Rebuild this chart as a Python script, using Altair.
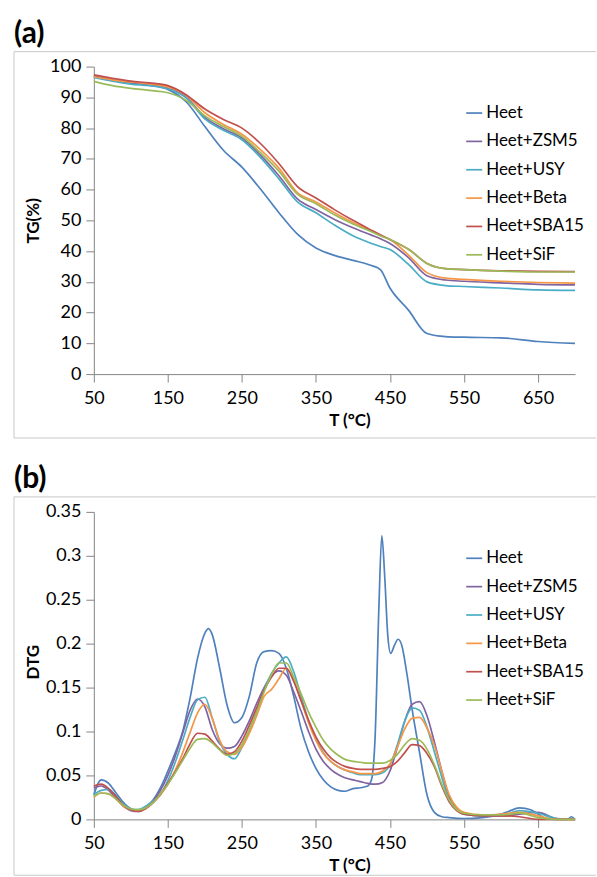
import altair as alt
import pandas as pd

SERIES = ["Heet", "Heet+ZSM5", "Heet+USY", "Heet+Beta", "Heet+SBA15", "Heet+SiF"]
COLORS = ["#4F81BD", "#8064A2", "#4BACC6", "#F79646", "#C0504D", "#9BBB59"]

X_TICKS = [50, 150, 250, 350, 450, 550, 650]

# ---------------- (a) TG ----------------
T_TG = [50, 75, 100, 125, 150, 175, 200, 225, 250, 275, 300, 325, 350, 375, 400,
        425, 437, 450, 475, 500, 525, 550, 600, 650, 700]
TG_HEET = [97.0, 95.6, 94.6, 94.0, 92.6, 88.5, 80.5, 72.8, 67.3, 60.2, 52.5, 45.5, 41.0,
           38.6, 37.0, 35.3, 34.0, 28.0, 20.8, 13.2, 12.2, 12.0, 11.8, 10.6, 10.0]
TG_ZSM5 = [96.8, 95.5, 94.6, 94.0, 93.0, 90.0, 83.5, 79.8, 76.8, 71.2, 64.5, 57.0, 53.5,
           50.3, 47.6, 45.2, 44.0, 42.5, 37.9, 32.0, 30.6, 30.2, 29.7, 29.2, 29.0]
TG_USY = [96.5, 95.3, 94.3, 93.8, 92.8, 89.8, 83.0, 79.3, 76.2, 70.5, 63.5, 56.0, 52.5,
          48.5, 45.0, 42.5, 41.5, 40.5, 35.7, 30.0, 28.8, 28.5, 28.0, 27.4, 27.2]
TG_BETA = [96.8, 95.7, 95.0, 94.4, 93.4, 90.6, 85.0, 81.2, 78.0, 73.0, 67.0, 59.0, 56.0,
           52.5, 49.3, 46.5, 45.0, 43.8, 38.7, 33.0, 31.2, 30.8, 30.2, 29.8, 29.6]
TG_SBA15 = [97.3, 96.2, 95.3, 94.7, 93.8, 90.8, 86.2, 82.8, 80.0, 75.0, 68.5, 61.0, 57.3,
            53.5, 50.0, 46.8, 45.3, 43.8, 40.6, 36.0, 34.3, 34.0, 33.6, 33.4, 33.3]
TG_SIF = [95.2, 93.8, 92.9, 92.3, 91.5, 89.0, 84.0, 80.5, 77.3, 72.0, 66.0, 58.5, 55.4,
          51.8, 48.8, 46.3, 45.0, 43.8, 40.6, 36.0, 34.3, 34.0, 33.5, 33.2, 33.2]

# ---------------- (b) DTG ----------------
T_DTG_HEET = [50, 60, 70, 80, 90, 100, 110, 120, 130, 140, 150, 160, 170, 180, 190, 200, 205,
              210, 220, 230, 240, 250, 260, 270, 280, 290, 300, 310, 320, 330, 340, 350, 360,
              370, 380, 390, 400, 410, 420, 425, 430, 435, 439, 443, 447, 451, 456, 461, 466,
              473, 480, 490, 500, 510, 520, 530, 550, 575, 600, 610, 625, 640, 650, 660, 675,
              690, 695, 700]
DTG_HEET = [0.028, 0.045, 0.041, 0.030, 0.019, 0.012, 0.010, 0.014, 0.022, 0.036, 0.055, 0.076,
            0.100, 0.138, 0.183, 0.212, 0.217,
            0.210, 0.172, 0.130, 0.110, 0.116, 0.140, 0.178, 0.191, 0.192, 0.189, 0.172, 0.140,
            0.103, 0.077, 0.058, 0.045, 0.037, 0.033, 0.032, 0.035, 0.036, 0.038,
            0.045, 0.095, 0.240, 0.323, 0.275, 0.210, 0.189, 0.198, 0.205, 0.198, 0.165, 0.125,
            0.076, 0.028, 0.008, 0.003, 0.002,
            0.001, 0.002, 0.006, 0.009, 0.013, 0.011, 0.006, 0.001, 0.0, 0.0, 0.003, 0.0]

T_DTG = [50, 60, 70, 80, 90, 100, 110, 120, 130, 140, 150, 160, 170, 180, 190, 200, 210, 220,
         230, 240, 250, 260, 270, 280, 290, 300, 310, 320, 330, 340, 350, 360, 370, 380, 390,
         400, 410, 420, 430, 440, 450, 460, 470, 480, 490, 500, 510, 520, 530, 540, 550, 575,
         600, 625, 650, 675, 700]
DTG_ZSM5 = [0.036, 0.038, 0.033, 0.024, 0.015, 0.010, 0.009, 0.013, 0.021, 0.033,
            0.050, 0.072, 0.098, 0.124, 0.137, 0.128, 0.102, 0.086, 0.081, 0.083,
            0.095, 0.112, 0.132, 0.150, 0.163, 0.169, 0.164, 0.145, 0.123, 0.100,
            0.080, 0.066, 0.057, 0.051, 0.047, 0.045, 0.043, 0.041, 0.040, 0.042,
            0.055, 0.082, 0.112, 0.131, 0.134, 0.118, 0.088, 0.055, 0.025, 0.012,
            0.006, 0.004, 0.004, 0.006, 0.008, 0.001, 0.0]
DTG_USY = [0.028, 0.033, 0.034, 0.027, 0.017, 0.012, 0.011, 0.015, 0.021, 0.028,
           0.044, 0.065, 0.090, 0.116, 0.136, 0.139, 0.115, 0.088, 0.074, 0.069,
           0.082, 0.100, 0.124, 0.148, 0.166, 0.178, 0.185, 0.168, 0.140, 0.112,
           0.092, 0.076, 0.066, 0.060, 0.056, 0.053, 0.051, 0.051, 0.051, 0.053,
           0.062, 0.085, 0.112, 0.127, 0.124, 0.105, 0.077, 0.048, 0.022, 0.011,
           0.006, 0.004, 0.004, 0.010, 0.007, 0.001, 0.0]
DTG_BETA = [0.025, 0.030, 0.029, 0.023, 0.015, 0.011, 0.010, 0.013, 0.019, 0.028,
            0.040, 0.056, 0.076, 0.099, 0.121, 0.131, 0.115, 0.090, 0.077, 0.074,
            0.082, 0.098, 0.118, 0.140, 0.148, 0.160, 0.172, 0.158, 0.135, 0.110,
            0.090, 0.075, 0.066, 0.060, 0.056, 0.054, 0.052, 0.052, 0.052, 0.055,
            0.063, 0.082, 0.103, 0.115, 0.116, 0.104, 0.084, 0.055, 0.028, 0.014,
            0.008, 0.005, 0.006, 0.008, 0.004, 0.0, 0.0]
DTG_SBA15 = [0.038, 0.040, 0.035, 0.026, 0.016, 0.011, 0.009, 0.012, 0.019, 0.029,
             0.041, 0.054, 0.069, 0.086, 0.098, 0.097, 0.089, 0.080, 0.074, 0.077,
             0.089, 0.107, 0.127, 0.147, 0.162, 0.172, 0.172, 0.157, 0.135, 0.113,
             0.094, 0.080, 0.070, 0.064, 0.060, 0.058, 0.057, 0.057, 0.057, 0.058,
             0.060, 0.066, 0.076, 0.085, 0.084, 0.075, 0.060, 0.038, 0.020, 0.010,
             0.006, 0.004, 0.004, 0.003, 0.0, 0.0, 0.0]
DTG_SIF = [0.026, 0.030, 0.029, 0.023, 0.016, 0.012, 0.011, 0.013, 0.019, 0.029,
           0.040, 0.053, 0.067, 0.081, 0.091, 0.092, 0.087, 0.079, 0.073, 0.075,
           0.085, 0.102, 0.122, 0.145, 0.165, 0.178, 0.178, 0.162, 0.143, 0.122,
           0.105, 0.090, 0.080, 0.073, 0.068, 0.066, 0.065, 0.064, 0.064, 0.064,
           0.067, 0.074, 0.085, 0.092, 0.090, 0.080, 0.062, 0.040, 0.022, 0.011,
           0.007, 0.005, 0.005, 0.007, 0.002, 0.0, 0.0]


def to_long(pairs):
    rows = []
    for name, (ts, vs) in zip(SERIES, pairs):
        for t, v in zip(ts, vs):
            rows.append({"T": t, "v": v, "s": name})
    return pd.DataFrame(rows)


df_tg = to_long([(T_TG, TG_HEET), (T_TG, TG_ZSM5), (T_TG, TG_USY),
                 (T_TG, TG_BETA), (T_TG, TG_SBA15), (T_TG, TG_SIF)])
df_dtg = to_long([(T_DTG_HEET, DTG_HEET), (T_DTG, DTG_ZSM5), (T_DTG, DTG_USY),
                  (T_DTG, DTG_BETA), (T_DTG, DTG_SBA15), (T_DTG, DTG_SIF)])

W, H = 482, 308
FONT = "Lato"
AXIS_COLOR = "#868686"
FRAME_COLOR = "#C8C8C8"


def panel(df, ydomain, yvalues, yfmt, ytitle, ytitle_y, tag, frame_bottom):
    x = alt.X("T:Q",
              scale=alt.Scale(domain=[50, 700], nice=False, zero=False),
              axis=alt.Axis(values=X_TICKS, format="d", title="T (°C)",
                            labelFlush=False, labelPadding=7,
                            titleX=256, titleY=46, titleAlign="center",
                            titleBaseline="middle"))
    y = alt.Y("v:Q",
              scale=alt.Scale(domain=ydomain, nice=False, zero=False),
              axis=alt.Axis(values=yvalues, format=yfmt, title=ytitle,
                            labelFlush=False, labelPadding=5,
                            titleX=-60, titleY=ytitle_y, titleAngle=-90,
                            titleAlign="center", titleBaseline="middle"))
    lines = alt.Chart(df).mark_line(strokeWidth=1.7, interpolate="monotone").encode(
        x=x, y=y,
        color=alt.Color("s:N", scale=alt.Scale(domain=SERIES, range=COLORS),
                        legend=alt.Legend(orient="none", legendX=372, legendY=37.5,
                                          title=None, symbolType="stroke",
                                          symbolSize=256, symbolStrokeWidth=1.7,
                                          labelFont=FONT, labelFontSize=17,
                                          labelColor="black", labelOffset=3,
                                          rowPadding=11.4, padding=0)),
    )
    one = alt.Data(values=[{"k": 1}])
    top = alt.Chart(one).mark_rule(color=FRAME_COLOR, strokeWidth=1).encode(
        x=alt.value(-80), x2=alt.value(503), y=alt.value(-15))
    left = alt.Chart(one).mark_rule(color=FRAME_COLOR, strokeWidth=1).encode(
        x=alt.value(-80), y=alt.value(-15), y2=alt.value(frame_bottom))
    bottom = alt.Chart(one).mark_rule(color=FRAME_COLOR, strokeWidth=1).encode(
        x=alt.value(-80), x2=alt.value(503), y=alt.value(frame_bottom))
    label = alt.Chart(one).mark_text(text=tag, align="left", baseline="top",
                                     font=FONT, fontSize=30, fontWeight="bold",
                                     color="black").encode(
        x=alt.value(-80), y=alt.value(-48))
    return alt.layer(top, left, bottom, label, lines).properties(width=W, height=H)


pa = panel(df_tg, [0, 100], list(range(0, 101, 10)), "d", "TG(%)", 154, "(a)", 372)
pb = panel(df_dtg, [0, 0.35], [0, 0.05, 0.1, 0.15, 0.2, 0.25, 0.3, 0.35], ".2~f",
           "DTG", 150, "(b)", 364)

chart = alt.vconcat(pa, pb, spacing=138, bounds="flush").resolve_legend(
    color="independent"
).properties(
    padding={"left": 13, "top": 18, "right": 0, "bottom": 0},
    background="white",
).configure_view(stroke=None).configure_axis(
    grid=False, domainColor=AXIS_COLOR, tickColor=AXIS_COLOR, tickSize=8,
    domainWidth=1, tickWidth=1,
    labelFont=FONT, labelFontSize=18, labelColor="black",
    titleFont=FONT, titleFontSize=17, titleFontWeight="bold", titleColor="black",
)

chart.save("out.html", embed_options={"renderer": "svg", "actions": False})
